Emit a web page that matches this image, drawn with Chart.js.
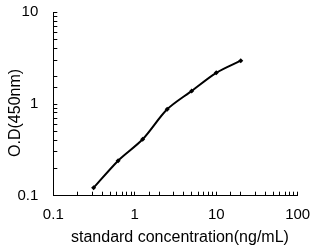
<!DOCTYPE html>
<html><head><meta charset="utf-8">
<script src="https://cdn.jsdelivr.net/npm/chart.js@4/dist/chart.umd.min.js"></script>
<style>html,body{margin:0;padding:0;background:#fff;}canvas{display:block;}</style>
</head><body>
<canvas id="c" width="316" height="250"></canvas>
<script>
const concentrations = [0.3125, 0.625, 1.25, 2.5, 5, 10, 20];
const odValues = [0.122, 0.241, 0.412, 0.875, 1.39, 2.19, 2.97];
const xTickLabels = ['0.1', '1', '10', '100'];
const yTickLabels = ['0.1', '1', '10'];
const xTitle = 'standard concentration(ng/mL)';
const yTitle = 'O.D(450nm)';

const FONT = '"Liberation Sans", Arial, sans-serif';
function isMajor(v, labels) {
  return labels.find(l => Math.abs(parseFloat(l) - v) < 1e-9 * Math.max(1, v));
}

new Chart(document.getElementById('c'), {
  type: 'line',
  data: {
    datasets: [{
      data: concentrations.map((x, i) => ({x: x, y: odValues[i]})),
      borderColor: '#000',
      backgroundColor: '#000',
      borderWidth: 2,
      tension: 0.3,
      pointStyle: 'rectRot',
      pointRadius: 2.5,
      pointBorderWidth: 0,
      fill: false
    }]
  },
  options: {
    responsive: false,
    animation: false,
    devicePixelRatio: 1,
    layout: {padding: {left: 0, right: 18.3, top: 12.3, bottom: 0}},
    plugins: {legend: {display: false}, tooltip: {enabled: false}},
    scales: {
      x: {
        type: 'logarithmic', min: 0.1, max: 100,
        afterFit: s => { s.height = 54.3; s.paddingLeft = 0; s.paddingRight = 0; },
        border: {display: true, color: '#000', width: 1},
        grid: {drawOnChartArea: false, drawTicks: true, tickLength: -4, color: '#000'},
        ticks: {
          autoSkip: false, maxRotation: 0, padding: 14,
          color: '#000', font: {family: FONT, size: 15},
          callback: v => { const l = isMajor(v, xTickLabels); return l !== undefined ? l : ''; }
        },
        title: {display: true, text: '  ' + xTitle, color: '#000', font: {family: FONT, size: 16}, padding: {top: 0, bottom: 2.4}}
      },
      y: {
        type: 'logarithmic', min: 0.1, max: 10,
        afterFit: s => { s.width = 53.3; s.paddingTop = 0; s.paddingBottom = 0; },
        border: {display: true, color: '#000', width: 1},
        grid: {drawOnChartArea: false, drawTicks: true, tickLength: -4, color: '#000'},
        ticks: {
          autoSkip: false, padding: 19,
          color: '#000', font: {family: FONT, size: 15},
          callback: v => { const l = isMajor(v, yTickLabels); return l !== undefined ? l : ''; }
        },
        title: {display: true, text: yTitle + '    ', color: '#000', font: {family: FONT, size: 16}, padding: {top: 6, bottom: 0}}
      }
    }
  }
});
</script>
</body></html>
